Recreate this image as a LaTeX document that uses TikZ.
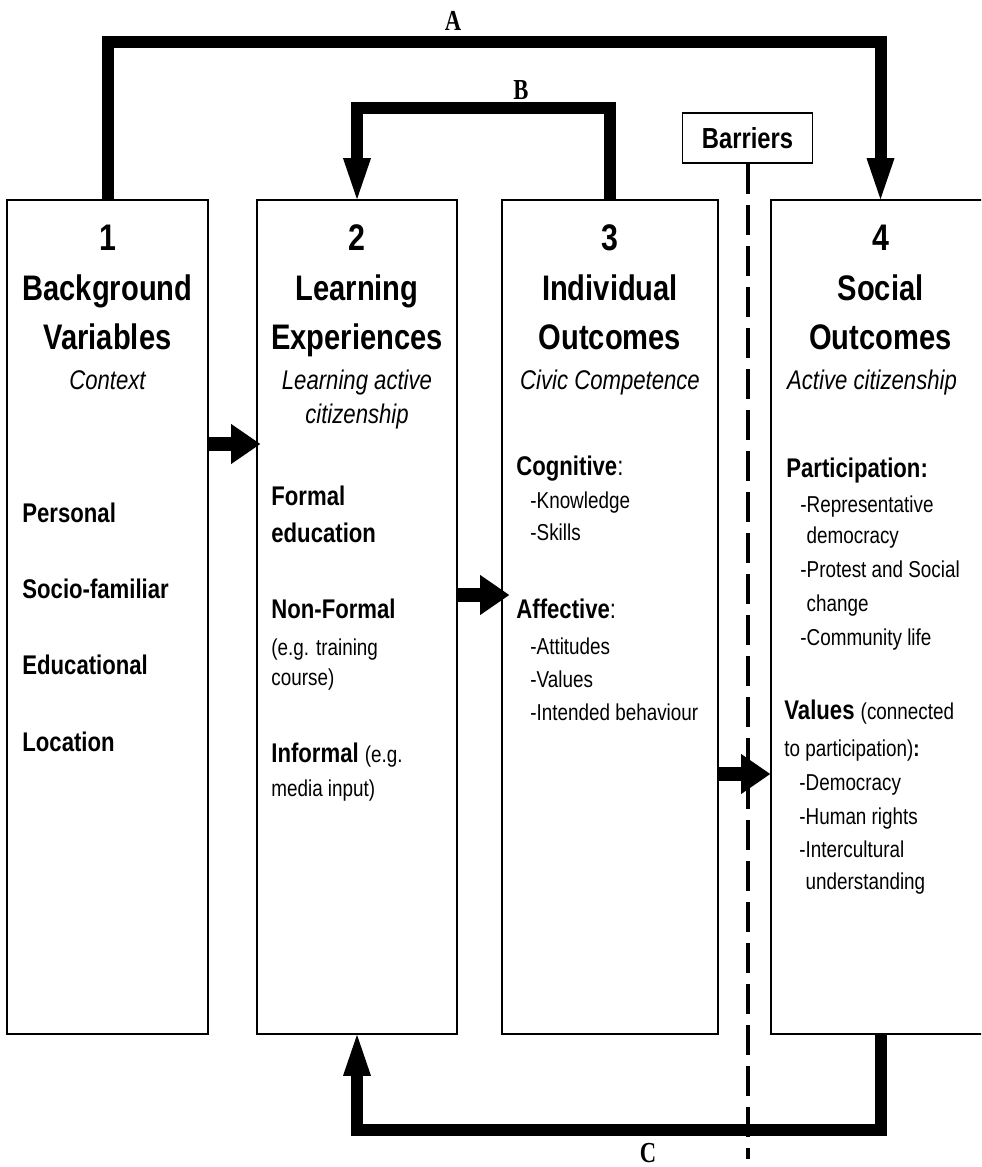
\documentclass[tikz,border=0pt]{standalone}
\usepackage{fontspec}
\setmainfont{Liberation Sans}[FakeStretch=0.82]
\newfontfamily\lblfont{Liberation Serif}[FakeStretch=0.78]
\usetikzlibrary{arrows.meta}
\begin{document}
\begin{tikzpicture}[x=0.5pt,y=-0.5pt,
  box/.style={draw, line width=0.8pt, minimum height=417pt, inner sep=0pt},
  barbox/.style={draw, line width=0.8pt, minimum width=65pt, minimum height=25pt, inner sep=0pt, font=\fontsize{14.5}{17}\selectfont\bfseries},
  num/.style={anchor=base, inner sep=0pt, font=\fontsize{18.5}{21}\selectfont\bfseries},
  ttl/.style={anchor=base, inner sep=0pt, font=\fontsize{17.75}{20}\selectfont\bfseries},
  sub/.style={anchor=base, inner sep=0pt, font=\fontsize{13.5}{16}\selectfont\itshape},
  itm/.style={anchor=base west, inner sep=0pt, font=\fontsize{13.5}{16}\selectfont\bfseries},
  sml/.style={anchor=base west, inner sep=0pt, font=\fontsize{11.5}{14}\selectfont},
  lbl/.style={anchor=base, inner sep=0pt, font=\lblfont\bfseries\fontsize{14.5}{17}\selectfont},
  bigarr/.style={line width=6pt, line join=miter, -{Triangle[length=20.5pt,width=14pt,line width=0pt]}},
  smallarr/.style={line width=7pt, -{Triangle[length=14.5pt,width=20pt,line width=0pt]}},
  dashline/.style={line width=2pt, dash pattern=on 15pt off 5.5pt}
]
\useasboundingbox (0,0) rectangle (981,1167);
\clip (0,0) rectangle (981,1167);

% barriers and dashed line
\node[barbox] (bar) at (747.5,138) {Barriers};
\coordinate (dend) at (747.5,1159);
\draw[dashline] (bar.south) -- (dend);

% boxes
\node[box, minimum width=100.5pt] (b1) at (107.5,617) {};
\node[box, minimum width=100pt] (b2) at (357,617) {};
\node[box, minimum width=108pt] (b3) at (610,617) {};
\node[box, minimum width=109.5pt] (b4) at (880.5,617) {};

% box 1
\node[num] (n1) at (107.5,250) {1};
\node[ttl] (t1a) at (107.5,300) {Background};
\node[ttl] (t1b) at (107.5,349) {Variables};
\node[sub] (s1) at (107.5,389) {Context};
\node[itm] (i1a) at (22,522) {Personal};
\node[itm] (i1b) at (22,598) {Socio-familiar};
\node[itm] (i1c) at (22,674) {Educational};
\node[itm] (i1d) at (22,751) {Location};

% box 2
\node[num] (n2) at (357,250) {2};
\node[ttl] (t2a) at (357,300) {Learning};
\node[ttl] (t2b) at (357,349) {Experiences};
\node[sub] (s2a) at (357,389) {Learning active};
\node[sub] (s2b) at (357,423) {citizenship};
\node[itm] (i2a) at (271,505) {Formal};
\node[itm] (i2b) at (271,542) {education};
\node[itm] (i2c) at (271,618) {Non-Formal};
\node[sml] (i2d) at (271,655) {(e.g. training};
\node[sml] (i2e) at (271,685) {course)};
\node[itm] (i2f) at (271,762) {Informal {\mdseries\fontsize{11.5}{14}\selectfont (e.g.}};
\node[sml] (i2g) at (271,796) {media input)};

% box 3
\node[num] (n3) at (610,250) {3};
\node[ttl] (t3a) at (610,300) {Individual};
\node[ttl] (t3b) at (610,349) {Outcomes};
\node[sub] (s3) at (610,389) {Civic Competence};
\node[itm] (i3a) at (516,475) {Cognitive{\mdseries:}};
\node[sml] (i3b) at (530,508) {-Knowledge};
\node[sml] (i3c) at (530,540) {-Skills};
\node[itm] (i3d) at (516,618) {Affective{\mdseries:}};
\node[sml] (i3e) at (530,654) {-Attitudes};
\node[sml] (i3f) at (530,687) {-Values};
\node[sml] (i3g) at (530,720) {-Intended behaviour};

% box 4
\node[num] (n4) at (880.5,250) {4};
\node[ttl] (t4a) at (880.5,300) {Social};
\node[ttl] (t4b) at (880.5,349) {Outcomes};
\node[sub] (s4) at (872,389) {Active citizenship};
\node[itm] (i4a) at (786,477) {Participation:};
\node[sml] (i4b) at (800,512) {-Representative};
\node[sml] (i4c) at (800,543) {\phantom{-}democracy};
\node[sml] (i4d) at (800,577) {-Protest and Social};
\node[sml] (i4e) at (800,611) {\phantom{-}change};
\node[sml] (i4f) at (800,645) {-Community life};
\node[itm] (i4g) at (784,719) {Values {\mdseries\fontsize{11.5}{14}\selectfont (connected}};
\node[sml] (i4h) at (784,756) {to participation)\textbf{:}};
\node[sml] (i4i) at (799,790) {-Democracy};
\node[sml] (i4j) at (799,824) {-Human rights};
\node[sml] (i4k) at (799,857) {-Intercultural};
\node[sml] (i4l) at (799,889) {\phantom{-}understanding};

% small arrows
\coordinate (r1) at (0,444);
\coordinate (r2) at (0,595);
\coordinate (r3) at (0,774);
\draw[smallarr] (b1.east |- r1) -- ([xshift=2pt]b2.west |- r1);
\draw[smallarr] (b2.east |- r2) -- ([xshift=4pt]b3.west |- r2);
\draw[smallarr] (b3.east |- r3) -- (b4.west |- r3);

% big feedback arrows
\coordinate (atop) at (880.5,42);
\coordinate (btop) at (357,108);
\coordinate (cbot) at (357,1130);
\draw[bigarr] (b1.north) |- (atop) -- (b4.north);
\draw[bigarr] (b3.north) |- (btop) -- (b2.north);
\draw[bigarr] (b4.south) |- (cbot) -- (b2.south);

% labels
\node[lbl] (la) at (453,30) {A};
\node[lbl] (lb) at (521,99) {B};
\node[lbl] (lc) at (648,1162) {C};
\end{tikzpicture}
\end{document}
